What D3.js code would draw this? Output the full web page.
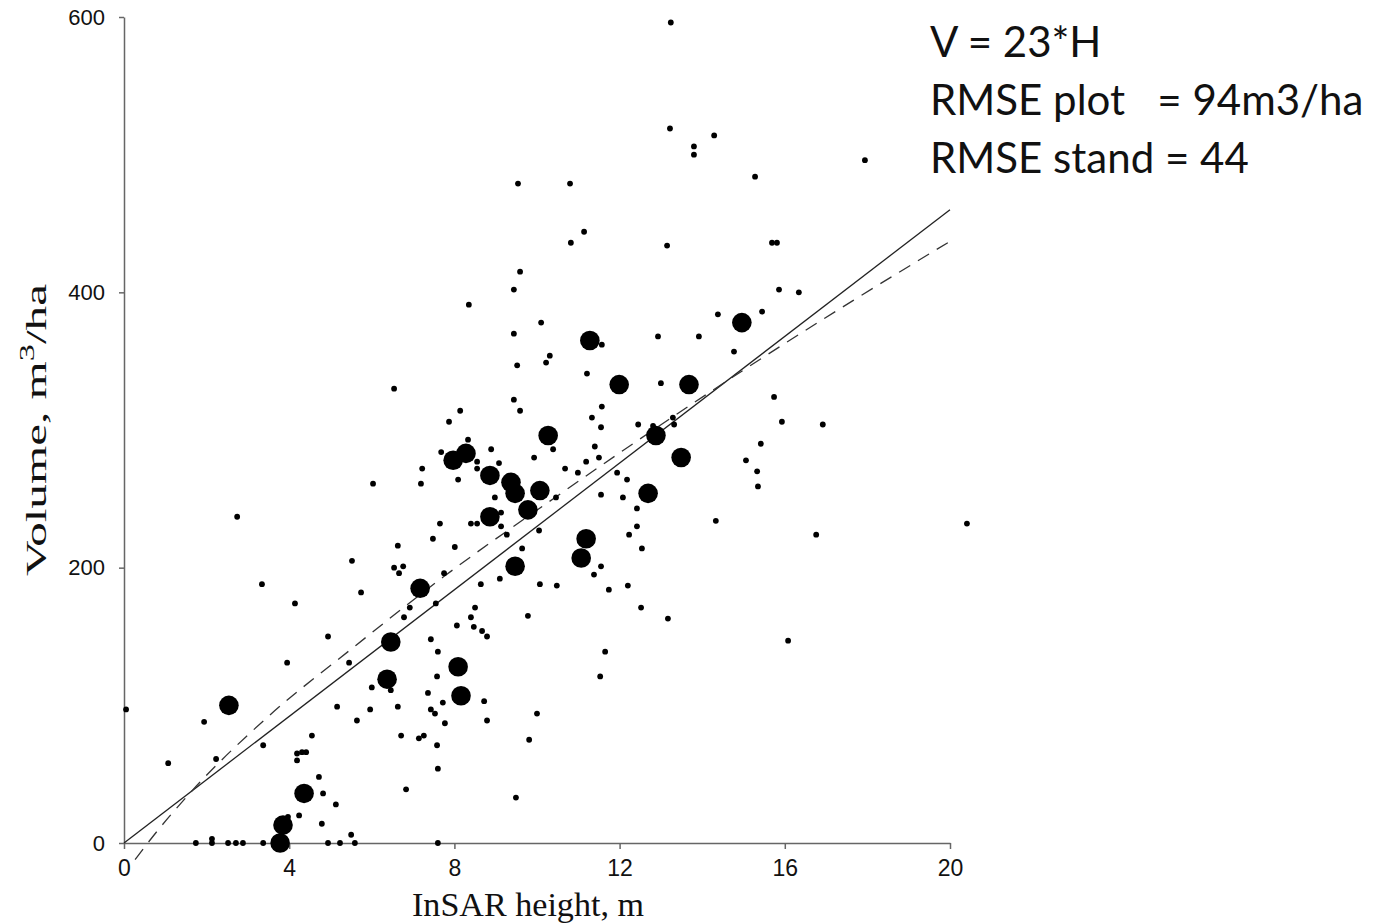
<!DOCTYPE html>
<html>
<head>
<meta charset="utf-8">
<script src="https://cdn.jsdelivr.net/npm/d3@7"></script>
<style>
  html, body { margin: 0; padding: 0; background: #fff; }
  svg { display: block; }
</style>
</head>
<body>
<svg id="chart" width="1387" height="924"></svg>
<script>
// plot-level points (small dots): [InSAR height m, volume m3/ha]
const plotPoints = [
    [0.05, 97], [1.07, 58], [1.94, 88], [2.23, 61], [2.74, 237], [3.34, 188], [3.37, 71], [3.95, 131],
    [4.14, 174], [4.19, 65], [4.31, 66], [4.41, 66], [4.19, 60], [4.55, 78], [4.72, 48], [4.82, 36],
    [5.13, 28], [4.24, 20], [3.97, 19], [4.79, 14], [5.50, 6], [4.94, 150], [5.45, 131], [5.52, 205],
    [5.74, 182], [5.16, 99], [5.64, 89], [5.96, 97], [6.00, 113], [6.46, 111], [6.63, 99], [6.71, 78],
    [6.83, 39], [6.54, 200], [6.76, 201], [6.66, 196], [6.92, 171], [6.78, 164], [7.14, 76], [7.26, 78],
    [7.36, 109], [7.43, 148], [7.60, 139], [7.58, 121], [7.72, 102], [7.43, 97], [7.53, 94], [7.77, 87],
    [7.58, 71], [7.60, 54], [8.06, 158], [8.50, 171], [8.40, 164], [8.47, 157], [8.67, 154], [8.79, 150],
    [8.72, 103], [8.79, 89], [10.00, 94], [9.81, 75], [9.49, 33], [11.65, 139], [11.53, 121],
    [1.74, 0], [2.13, 3], [2.13, 0], [2.52, 0], [2.71, 0], [2.88, 0], [3.37, 0], [4.94, 0],
    [5.23, 0], [5.59, 0], [7.60, 0],
    [6.03, 261], [6.54, 330], [6.63, 216], [7.19, 261], [7.22, 272], [7.48, 221], [7.55, 174], [7.65, 232],
    [7.68, 284], [7.75, 196], [7.87, 306], [8.01, 215], [8.09, 264], [8.14, 314], [8.33, 293], [8.35, 391],
    [8.40, 232], [8.55, 232], [8.55, 277], [8.55, 272], [8.64, 188], [8.89, 286], [8.98, 251], [9.08, 276],
    [9.10, 192], [9.13, 240], [9.13, 230], [9.27, 224], [9.44, 402], [9.44, 370], [9.44, 322], [9.52, 347],
    [9.54, 479], [9.59, 415], [9.59, 314], [9.64, 214], [9.78, 165], [9.93, 280], [10.05, 227], [10.07, 188],
    [10.10, 378], [10.22, 349], [10.31, 354], [10.39, 286], [10.46, 251], [10.48, 187], [10.68, 272], [10.80, 479],
    [10.82, 436], [10.99, 269], [11.14, 444], [11.19, 277], [11.21, 341], [11.33, 309], [11.38, 195], [11.40, 288],
    [11.50, 280], [11.55, 302], [11.55, 253], [11.55, 201], [11.57, 362], [11.57, 317], [11.74, 184], [11.94, 269],
    [12.08, 251], [12.18, 264], [12.20, 187], [12.23, 224], [12.42, 243], [12.42, 230], [12.45, 304], [12.52, 171],
    [12.54, 214], [12.81, 303], [12.93, 368], [13.00, 334], [13.15, 434], [13.17, 163], [13.22, 519], [13.24, 596],
    [13.29, 309], [13.32, 304], [13.80, 506], [13.80, 500], [13.92, 368], [14.29, 514], [14.33, 234], [14.38, 384],
    [14.77, 357], [15.06, 278], [15.28, 484], [15.33, 270], [15.35, 259], [15.42, 290], [15.45, 386], [15.69, 436],
    [15.81, 436], [15.74, 324], [15.86, 402], [15.93, 306], [16.08, 147], [16.34, 400], [16.76, 224], [16.92, 304],
    [17.94, 496], [20.41, 232]
];

// stand-level means (large dots)
const standPoints = [
    [2.54, 100], [3.85, 13], [3.78, 0], [4.36, 36], [6.37, 119], [6.46, 146], [7.17, 185], [8.09, 128],
    [8.16, 107], [7.97, 278], [8.28, 283], [8.86, 267], [8.86, 237], [9.37, 262], [9.47, 254], [9.78, 242],
    [9.47, 201], [10.07, 256], [10.27, 296], [11.07, 207], [11.19, 221], [11.28, 365], [11.99, 333], [12.69, 254],
    [12.88, 296], [13.49, 280], [13.68, 333], [14.96, 378]
];

// regression line V = 23*H (end points)
const fitH = [0, 20];
const fitV = [0, 460];

// dashed curve
const dashH = [0.27, 0.68, 1.65, 3.46, 5.55, 7.72, 10.44, 14.26, 17.65, 20];
const dashV = [-12, 4, 38, 91, 142, 193, 251, 329, 394, 437];

const xTicks = [0, 4, 8, 12, 16, 20];
const yTicks = [0, 200, 400, 600];
const notes = ["V = 23*H", "RMSE plot   = 94m3/ha", "RMSE stand = 44"];

const svg = d3.select("#chart");
const margin = { top: 17, right: 437, bottom: 81, left: 124 };
const width = +svg.attr("width");
const height = +svg.attr("height");

const x = d3.scaleLinear().domain([0, 20]).range([margin.left, width - margin.right]);
const y = d3.scaleLinear().domain([0, 600]).range([height - margin.bottom, margin.top]);

// axes
const xAxis = svg.append("g")
    .attr("transform", `translate(0,${y(0)})`)
    .call(d3.axisBottom(x).tickValues(xTicks).tickSize(6).tickSizeOuter(0).tickPadding(11));

const yAxis = svg.append("g")
    .attr("transform", `translate(${x(0)},0)`)
    .call(d3.axisLeft(y).tickValues(yTicks).tickSize(5).tickSizeOuter(0).tickPadding(14));

[xAxis, yAxis].forEach(g => {
    g.select(".domain").attr("stroke", "#666").attr("stroke-width", 1.5);
    g.selectAll(".tick line").attr("stroke", "#666").attr("stroke-width", 1.5);
    g.selectAll(".tick text")
        .attr("fill", "#111")
        .style("font-family", "'Liberation Sans', Arial, sans-serif");
});
xAxis.selectAll(".tick text").style("font-size", "23px");
yAxis.selectAll(".tick text").style("font-size", "22px");

// lines
const line = d3.line().x(d => x(d[0])).y(d => y(d[1]));

svg.append("path")
    .datum(fitH.map((h, i) => [h, fitV[i]]))
    .attr("fill", "none")
    .attr("stroke", "#222")
    .attr("stroke-width", 1.3)
    .attr("d", line);

svg.append("path")
    .datum(dashH.map((h, i) => [h, dashV[i]]))
    .attr("fill", "none")
    .attr("stroke", "#333")
    .attr("stroke-width", 1.3)
    .attr("stroke-dasharray", "13,9")
    .attr("d", line.curve(d3.curveMonotoneX));

// dots
svg.append("g")
    .selectAll("circle")
    .data(plotPoints)
    .join("circle")
    .attr("cx", d => x(d[0]))
    .attr("cy", d => y(d[1]))
    .attr("r", 2.9)
    .attr("fill", "#000");

svg.append("g")
    .selectAll("circle")
    .data(standPoints)
    .join("circle")
    .attr("cx", d => x(d[0]))
    .attr("cy", d => y(d[1]))
    .attr("r", 9.8)
    .attr("fill", "#000");

// axis titles
svg.append("text")
    .attr("x", 528)
    .attr("y", 916)
    .attr("text-anchor", "middle")
    .attr("textLength", 232)
    .attr("lengthAdjust", "spacingAndGlyphs")
    .style("font-family", "'Liberation Serif', 'Times New Roman', serif")
    .style("font-size", "33px")
    .attr("fill", "#111")
    .text("InSAR height, m");

const yTitle = svg.append("text")
    .attr("transform", "translate(46,430) rotate(-90)")
    .attr("text-anchor", "middle")
    .attr("textLength", 292)
    .attr("lengthAdjust", "spacingAndGlyphs")
    .style("font-family", "'Liberation Serif', 'Times New Roman', serif")
    .style("font-size", "30px")
    .attr("fill", "#111");
yTitle.append("tspan").text("Volume, m");
yTitle.append("tspan").attr("dy", -12).style("font-size", "21px").text("3");
yTitle.append("tspan").attr("dy", 12).text("/ha");

// annotation
svg.append("g")
    .selectAll("text")
    .data(notes)
    .join("text")
    .attr("x", 930)
    .attr("y", (d, i) => 57 + i * 58)
    .style("font-family", "Lato, 'Open Sans', sans-serif")
    .style("font-size", "42px")
    .style("white-space", "pre")
    .attr("fill", "#111")
    .text(d => d);
</script>
</body>
</html>
